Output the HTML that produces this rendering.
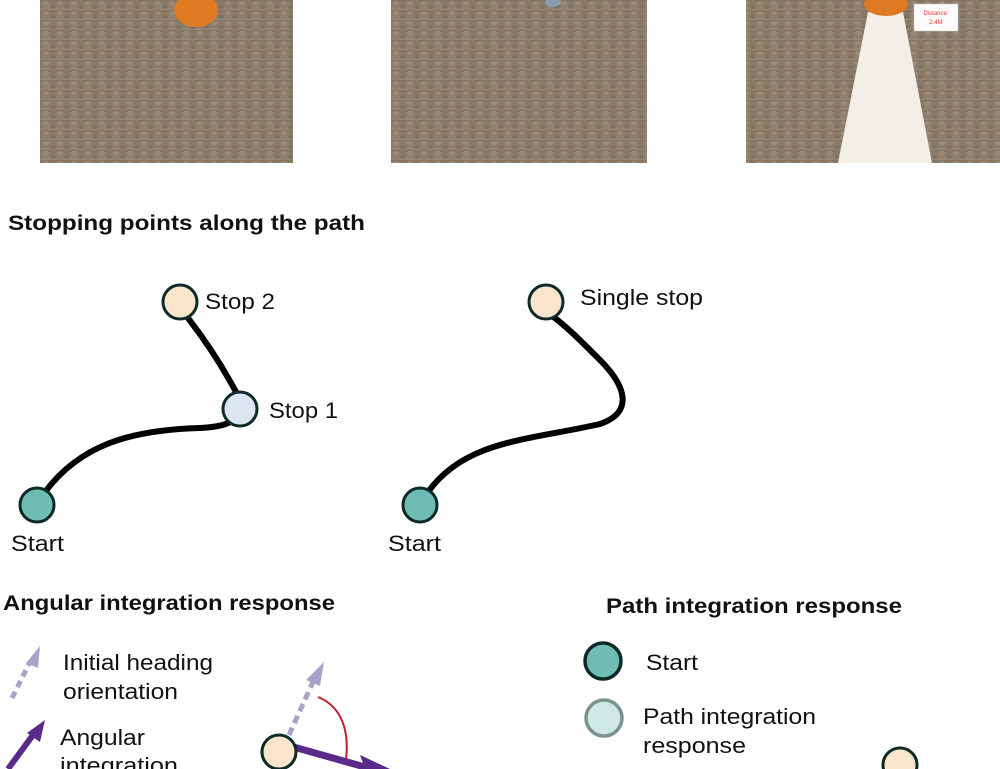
<!DOCTYPE html>
<html><head><meta charset="utf-8"><style>
html,body{margin:0;padding:0;background:#fff;}
body{width:1000px;height:769px;position:relative;overflow:hidden;font-family:"Liberation Sans",sans-serif;}
</style></head><body>
<svg width="1000" height="769" viewBox="0 0 1000 769" xmlns="http://www.w3.org/2000/svg" style="position:absolute;left:0;top:0">
<defs>
<linearGradient id="g1" x1="0" y1="0" x2="0" y2="1">
<stop offset="0" stop-color="#857461"/><stop offset="0.5" stop-color="#8c7c69"/><stop offset="1" stop-color="#958676"/>
</linearGradient>
<pattern id="pb" width="14" height="10" patternUnits="userSpaceOnUse">
<rect width="14" height="10" fill="url(#g1)"/>
<ellipse cx="4" cy="3" rx="3.5" ry="2" fill="#a39482" opacity="0.6"/>
<ellipse cx="11" cy="7" rx="3" ry="2" fill="#6e6558" opacity="0.5"/>
</pattern>
</defs>
<rect x="40" y="0" width="253" height="163" fill="url(#pb)"/>
<rect x="391" y="0" width="256" height="163" fill="url(#pb)"/>
<rect x="746" y="0" width="254" height="163" fill="url(#pb)"/>
<ellipse cx="196" cy="10" rx="22" ry="17" fill="#e07a22"/>
<ellipse cx="553" cy="2" rx="8" ry="5" fill="#8a9ab0"/>
<polygon points="868,12 903,12 932,163 838,163" fill="#f3efe8"/>
<ellipse cx="886" cy="4" rx="22" ry="12" fill="#e07a22"/>
<rect x="914" y="4" width="44" height="27" fill="#fbfbfb" stroke="#ccc" stroke-width="0.5"/>
<text x="936" y="15" font-size="6" fill="#e33" text-anchor="middle">Distance:</text>
<text x="936" y="24" font-size="6" fill="#e33" text-anchor="middle">2.4M</text>

<text x="8" y="230" font-size="21" font-weight="bold" fill="#111" textLength="357" lengthAdjust="spacingAndGlyphs">Stopping  points along the path</text>

<g fill="none" stroke="#000" stroke-width="6" stroke-linecap="round">
<path d="M45,492 C80,445 130,430 200,428 C222,427 232,423 238,416"/>
<path d="M236,392 C220,362 205,340 188,318"/>
<path d="M428,492 C465,440 530,440 600,424 C635,412 625,385 600,360 C580,340 565,325 552,316"/>
</g>
<g stroke="#0e2a28" stroke-width="3">
<circle cx="180" cy="302" r="17" fill="#fae4cc"/>
<circle cx="240" cy="409" r="17" fill="#dce6f0"/>
<circle cx="37" cy="505" r="17" fill="#6fbcb3"/>
<circle cx="546" cy="302" r="17" fill="#fae4cc"/>
<circle cx="420" cy="505" r="17" fill="#6fbcb3"/>
</g>
<g font-size="22" fill="#111">
<text x="205" y="309" textLength="70" lengthAdjust="spacingAndGlyphs">Stop 2</text>
<text x="269" y="418" textLength="69" lengthAdjust="spacingAndGlyphs">Stop 1</text>
<text x="11" y="551" textLength="53" lengthAdjust="spacingAndGlyphs">Start</text>
<text x="580" y="305" textLength="123" lengthAdjust="spacingAndGlyphs">Single stop</text>
<text x="388" y="551" textLength="53" lengthAdjust="spacingAndGlyphs">Start</text>
</g>

<text x="3" y="610" font-size="21" font-weight="bold" fill="#111" textLength="332" lengthAdjust="spacingAndGlyphs">Angular integration response</text>
<text x="606" y="613" font-size="21" font-weight="bold" fill="#111" textLength="296" lengthAdjust="spacingAndGlyphs">Path integration response</text>

<g font-size="22" fill="#111">
<text x="63" y="670" textLength="150" lengthAdjust="spacingAndGlyphs">Initial heading</text>
<text x="63" y="699" textLength="115" lengthAdjust="spacingAndGlyphs">orientation</text>
<text x="60" y="745" textLength="85" lengthAdjust="spacingAndGlyphs">Angular</text>
<text x="60" y="773" textLength="118" lengthAdjust="spacingAndGlyphs">integration</text>
<text x="646" y="670" textLength="52" lengthAdjust="spacingAndGlyphs">Start</text>
<text x="643" y="724" textLength="173" lengthAdjust="spacingAndGlyphs">Path integration</text>
<text x="643" y="753" textLength="103" lengthAdjust="spacingAndGlyphs">response</text>
</g>
<line x1="12" y1="698" x2="30" y2="662" stroke="#a9a3c9" stroke-width="5" stroke-dasharray="7,5"/>
<polygon points="40,646 26,663 38,668" fill="#a9a3c9"/>
<line x1="8" y1="769" x2="33" y2="735" stroke="#5a2a8a" stroke-width="6"/>
<polygon points="45,720 27,733 40,742" fill="#5a2a8a"/>
<line x1="289" y1="735" x2="313" y2="682" stroke="#a9a3c9" stroke-width="5" stroke-dasharray="8,5"/>
<polygon points="324,662 306,680 320,686" fill="#a9a3c9"/>
<path d="M318,697 C338,705 350,725 346,760" fill="none" stroke="#c0202a" stroke-width="2"/>
<line x1="290" y1="746" x2="372" y2="769" stroke="#5a2a8a" stroke-width="7"/>
<polygon points="390,769 360,755 365,769" fill="#5a2a8a"/>
<circle cx="279" cy="752" r="17" fill="#fae4cc" stroke="#0e2a28" stroke-width="3"/>
<circle cx="603" cy="661" r="18" fill="#6fbcb3" stroke="#0e2a28" stroke-width="3.5"/>
<circle cx="604" cy="718" r="18" fill="#cfe8e6" stroke="#7b928f" stroke-width="3.5"/>
<circle cx="900" cy="765" r="17" fill="#fae4cc" stroke="#0e2a28" stroke-width="3"/>
</svg>
</body></html>
